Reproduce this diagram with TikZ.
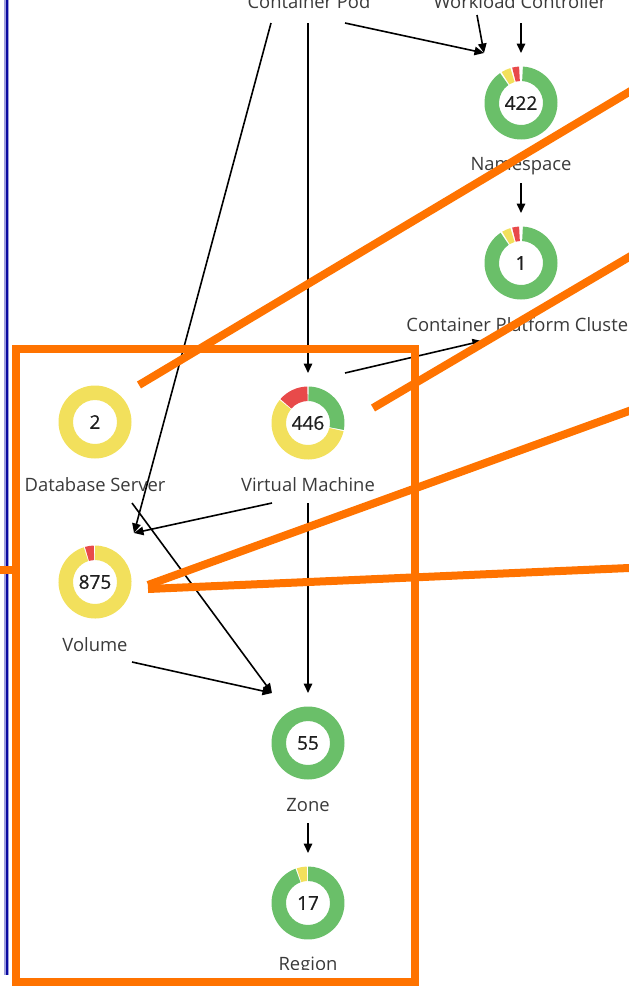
\documentclass[tikz,border=0pt]{standalone}
\usepackage{fontspec}
\setmainfont{Open Sans}
\newfontfamily\countfont{Open Sans}[FakeBold=0.7]
\usetikzlibrary{arrows.meta,calc}

\definecolor{okgreen}{HTML}{6ABF69}
\definecolor{warnyellow}{HTML}{F2E05C}
\definecolor{critred}{HTML}{E84A4A}
\definecolor{callout}{HTML}{FF7300}
\definecolor{edgeblue}{HTML}{0A0AA0}
\definecolor{haloblue}{HTML}{A0A0DC}
\definecolor{labeltext}{HTML}{3A3A3A}
\definecolor{numtext}{HTML}{1E1E1E}

\tikzset{
  donut/.style={circle, minimum size=73pt, inner sep=0pt,
    font=\countfont\fontsize{19}{20}\selectfont, text=numtext},
  caption/.style={anchor=base, inner sep=0pt,
    font=\fontsize{18.4}{20}\selectfont, text=labeltext},
  link/.style={draw=black, line width=1.6pt,
    -{Triangle[length=9.5pt,width=8.5pt]}},
  calloutline/.style={draw=callout, line width=8pt},
}

% one coloured arc of a status ring: node, from angle, to angle, colour
\newcommand\ringseg[4]{%
  \fill[#4] ($(#1)+(#2:36.5pt)$) arc[start angle=#2, end angle=#3, radius=36.5pt]
    -- ($(#1)+(#3:22pt)$) arc[start angle=#3, end angle=#2, radius=22pt] -- cycle;}
% a complete ring in one colour
\newcommand\ringfull[2]{%
  \fill[#2, even odd rule] (#1) circle[radius=36.5pt] (#1) circle[radius=22pt];}

\begin{document}
\begin{tikzpicture}[x=1pt, y=1pt]
\clip (0,0) rectangle (629,-986);

% ---- status rings -------------------------------------------------------
\node[donut] (ns)     at (521,-103) {422};
\node[donut] (cpc)    at (521,-263) {1};
\node[donut] (db)     at (95,-422)  {2};
\node[donut] (vm)     at (308,-423) {446};
\node[donut] (vol)    at (95,-582)  {875};
\node[donut] (zone)   at (308,-743) {55};
\node[donut] (region) at (308,-903) {17};

\ringseg{ns}{93}{104}{critred}
\ringseg{ns}{107}{122}{warnyellow}
\ringseg{ns}{125}{447}{okgreen}

\ringseg{cpc}{93}{104}{critred}
\ringseg{cpc}{107}{121}{warnyellow}
\ringseg{cpc}{124}{447}{okgreen}

\ringfull{db}{warnyellow}

\ringseg{vm}{-11}{89}{okgreen}
\ringseg{vm}{91}{139}{critred}
\ringseg{vm}{141}{347}{warnyellow}

\ringseg{vol}{92}{106}{critred}
\ringseg{vol}{108}{450}{warnyellow}

\ringfull{zone}{okgreen}

\ringseg{region}{92}{108}{warnyellow}
\ringseg{region}{110}{450}{okgreen}

% ---- captions -----------------------------------------------------------
\node[caption] (podcap) at (309,-8)  {Container Pod};
\node[caption] (wccap)  at (520,-8)  {Workload Controller};
\node[caption] (nscap)  at (521,-170) {Namespace};
\node[caption] (cpccap) at (521,-331) {Container Platform Cluster};
\node[caption] (dbcap)  at (95,-491)  {Database Server};
\node[caption] (vmcap)  at (308,-491) {Virtual Machine};
\node[caption] (volcap) at (95,-651)  {Volume};
\node[caption] (zonecap) at (308,-811) {Zone};
\begin{scope}
  \clip (0,-900) rectangle (629,-969);
  \node[caption] (regcap) at (308,-970) {Region};
\end{scope}

% ---- connector ports ----------------------------------------------------
\coordinate (pod-a) at (271,-23);
\coordinate (pod-b) at (308,-23);
\coordinate (pod-c) at (345,-23);
\coordinate (wc-a)  at (477,-15);
\coordinate (wc-b)  at (521,-23);
\coordinate (ns-in) at (484,-53);
\coordinate (ns-top) at (521,-53);
\coordinate (ns-out) at (521,-183);
\coordinate (cpc-top) at (521,-213);
\coordinate (cpc-in) at (482,-341);
\coordinate (vm-top) at (308,-373);
\coordinate (vm-ne)  at (345,-373);
\coordinate (vm-sw)  at (272,-503);
\coordinate (vm-s)   at (308,-503);
\coordinate (db-se)  at (132,-503);
\coordinate (vol-in) at (134,-533);
\coordinate (vol-se) at (132,-662);
\coordinate (zone-in)  at (272,-693);
\coordinate (zone-top) at (308,-693);
\coordinate (zone-out) at (308,-823);
\coordinate (region-top) at (308,-853);

% ---- relations ----------------------------------------------------------
\draw[link] (pod-a) -- (vol-in);
\draw[link] (pod-b) -- (vm-top);
\draw[link] (pod-c) -- (ns-in);
\draw[link] (wc-a) -- (ns-in);
\draw[link] (wc-b) -- (ns-top);
\draw[link] (ns-out) -- (cpc-top);
\draw[link] (vm-ne) -- (cpc-in);
\draw[link] (vm-sw) -- (vol-in);
\draw[link] (db-se) -- (zone-in);
\draw[link] (vol-se) -- (zone-in);
\draw[link] (vm-s) -- (zone-top);
\draw[link] (zone-out) -- (region-top);

% ---- page edge rule -----------------------------------------------------
\draw[haloblue, line width=4.5pt] (6.7,0) -- (6.7,-975);
\draw[edgeblue, line width=2.2pt] (6.7,0) -- (6.7,-975);

% ---- highlight frame and call-out lines ---------------------------------
\coordinate (frame-nw) at (16,-349);
\coordinate (frame-se) at (415,-982);
\draw[callout, line width=8pt] (frame-nw) rectangle (frame-se);
\coordinate (tick-a) at (0,-570);
\coordinate (tick-b) at (16,-570);
\draw[calloutline] (tick-a) -- (tick-b);

\coordinate (c1-a) at (139,-385);
\coordinate (c1-b) at (645,-82.4);
\coordinate (c2-a) at (373,-408);
\coordinate (c2-b) at (645,-247.6);
\coordinate (c3-a) at (148,-585);
\coordinate (c3-b) at (645,-405.2);
\coordinate (c4-a) at (148,-589);
\coordinate (c4-b) at (645,-567.3);
\draw[calloutline] (c1-a) -- (c1-b);
\draw[calloutline] (c2-a) -- (c2-b);
\draw[calloutline] (c3-a) -- (c3-b);
\draw[calloutline] (c4-a) -- (c4-b);
\end{tikzpicture}
\end{document}
